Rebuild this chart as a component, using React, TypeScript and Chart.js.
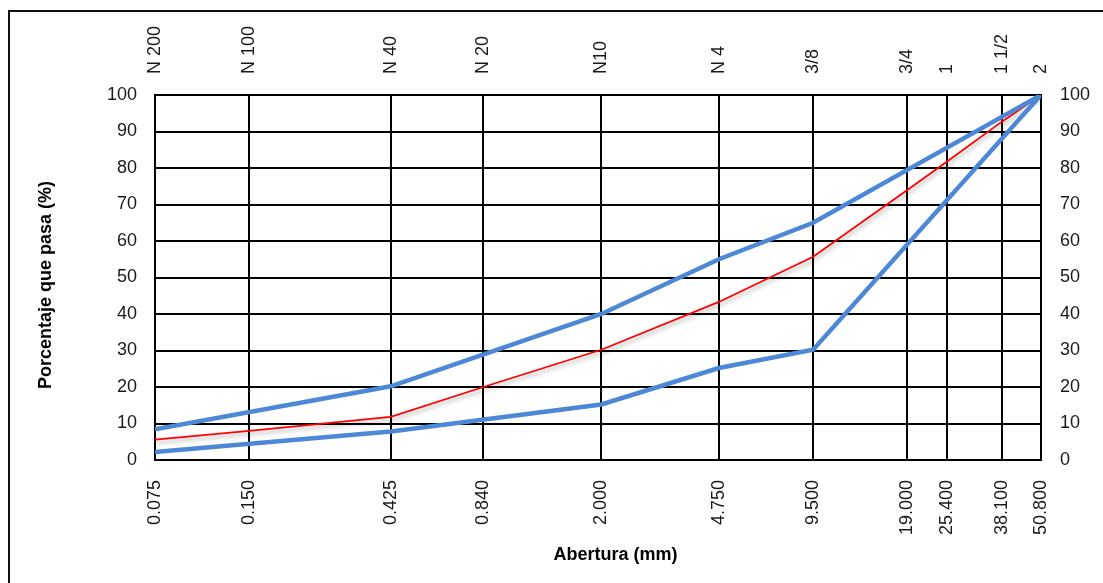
import React, { useEffect, useRef } from "react";
import { Chart, registerables } from "chart.js";

Chart.register(...registerables);

// Sieve openings (mm) and their labels
const sieveSizes = [0.075, 0.15, 0.425, 0.84, 2, 4.75, 9.5, 19, 25.4, 38.1, 50.8];
const sizeLabels = ["0.075", "0.150", "0.425", "0.840", "2.000", "4.750", "9.500", "19.000", "25.400", "38.100", "50.800"];
const sieveNames = ["N 200", "N 100", "N 40", "N 20", "N10", "N 4", "3/8", "3/4", "1", "1 1/2", "2"];

// Upper limit curve
const upperX = [0.075, 0.425, 2, 4.75, 9.5, 50.8];
const upperY = [8.4, 20.2, 40, 55, 65, 100];

// Lower limit curve
const lowerX = [0.075, 0.425, 2, 4.75, 9.5, 50.8];
const lowerY = [2.2, 7.8, 15.2, 25.2, 30.2, 100];

// Sample gradation curve
const sampleX = sieveSizes;
const sampleY = [5.6, 8, 11.8, 20, 30.2, 43.3, 55.7, 74, 81.7, 92.7, 100];

const FONT = "'Liberation Sans', Arial, sans-serif";
const BLUE = "rgb(76,136,214)";
const RED = "#ff0000";

const toPoints = (xs: number[], ys: number[]) => xs.map((x, i) => ({ x, y: ys[i] }));

const shadowPlugin = {
  id: "redShadow",
  beforeDatasetDraw(chart: any, args: any) {
    if (args.index === 2) {
      const ctx = chart.ctx;
      ctx.save();
      ctx.shadowColor = "rgba(0,0,0,0.35)";
      ctx.shadowBlur = 4;
      ctx.shadowOffsetX = 1;
      ctx.shadowOffsetY = 3;
    }
  },
  afterDatasetDraw(chart: any, args: any) {
    if (args.index === 2) chart.ctx.restore();
  },
};

export default function App() {
  const ref = useRef<HTMLCanvasElement | null>(null);

  useEffect(() => {
    if (!ref.current) return;
    const setTicks = (s: any) => {
      s.ticks = sieveSizes.map((v) => ({ value: v }));
    };
    const tickFont = { family: FONT, size: 18 };
    const chart = new Chart(ref.current, {
      type: "line",
      data: {
        datasets: [
          {
            label: "Límite superior",
            data: toPoints(upperX, upperY),
            borderColor: BLUE,
            borderWidth: 4.5,
            pointRadius: 0,
            tension: 0,
          },
          {
            label: "Límite inferior",
            data: toPoints(lowerX, lowerY),
            borderColor: BLUE,
            borderWidth: 4.5,
            pointRadius: 0,
            tension: 0,
          },
          {
            label: "Muestra",
            data: toPoints(sampleX, sampleY),
            borderColor: RED,
            borderWidth: 1.8,
            pointRadius: 0,
            tension: 0,
          },
        ],
      },
      options: {
        animation: false,
        responsive: false,
        maintainAspectRatio: false,
        layout: { padding: 0 },
        plugins: {
          legend: { display: false },
          tooltip: { enabled: false },
        },
        scales: {
          x: {
            type: "logarithmic",
            position: "bottom",
            min: 0.075,
            max: 50.8,
            afterBuildTicks: setTicks,
            afterFit: (s: any) => {
              s.height = 123;
            },
            ticks: {
              autoSkip: false,
              maxRotation: 90,
              minRotation: 90,
              padding: 20,
              color: "#1a1a1a",
              font: tickFont,
              callback: (_v: any, i: number) => sizeLabels[i],
            },
            grid: { color: "#000", lineWidth: 2, drawTicks: false },
            border: { color: "#000", width: 2 },
            title: {
              display: true,
              text: "       Abertura (mm)",
              color: "#000",
              font: { family: FONT, size: 18, weight: "bold" },
              padding: { top: 0, bottom: 17 },
            },
          },
          x2: {
            type: "logarithmic",
            position: "top",
            min: 0.075,
            max: 50.8,
            afterBuildTicks: setTicks,
            afterFit: (s: any) => {
              s.height = 95;
            },
            ticks: {
              autoSkip: false,
              maxRotation: 90,
              minRotation: 90,
              padding: 21,
              labelOffset: 21.6,
              color: "#1a1a1a",
              font: tickFont,
              callback: (_v: any, i: number) => sieveNames[i],
            },
            grid: { display: false, drawTicks: false },
            border: { color: "#000", width: 2 },
          },
          y: {
            position: "left",
            min: 0,
            max: 100,
            afterFit: (s: any) => {
              s.width = 155;
            },
            ticks: { stepSize: 10, padding: 18, color: "#1a1a1a", font: tickFont },
            grid: { color: "#000", lineWidth: 2, drawTicks: false },
            border: { color: "#000", width: 2 },
            title: {
              display: true,
              text: "Porcentaje que pasa (%)   ",
              color: "#000",
              font: { family: FONT, size: 18, weight: "bold" },
              padding: { top: 35, bottom: 0 },
            },
          },
          y2: {
            position: "right",
            min: 0,
            max: 100,
            afterFit: (s: any) => {
              s.width = 62;
            },
            ticks: { stepSize: 10, padding: 19, color: "#1a1a1a", font: tickFont },
            grid: { display: false, drawTicks: false },
            border: { color: "#000", width: 2 },
          },
        },
      } as any,
      plugins: [shadowPlugin],
    });
    return () => chart.destroy();
  }, []);

  return (
    <div
      style={{
        position: "fixed",
        left: 0,
        top: 0,
        width: 1103,
        height: 583,
        overflow: "hidden",
        background: "#fff",
      }}
    >
      <div
        style={{
          position: "absolute",
          left: 8,
          top: 10,
          width: 1200,
          height: 700,
          borderLeft: "2.5px solid #111",
          borderTop: "2.5px solid #111",
        }}
      />
      <canvas
        ref={ref}
        width={1103}
        height={583}
        style={{ position: "absolute", left: 0, top: 0, width: 1103, height: 583 }}
      />
    </div>
  );
}
